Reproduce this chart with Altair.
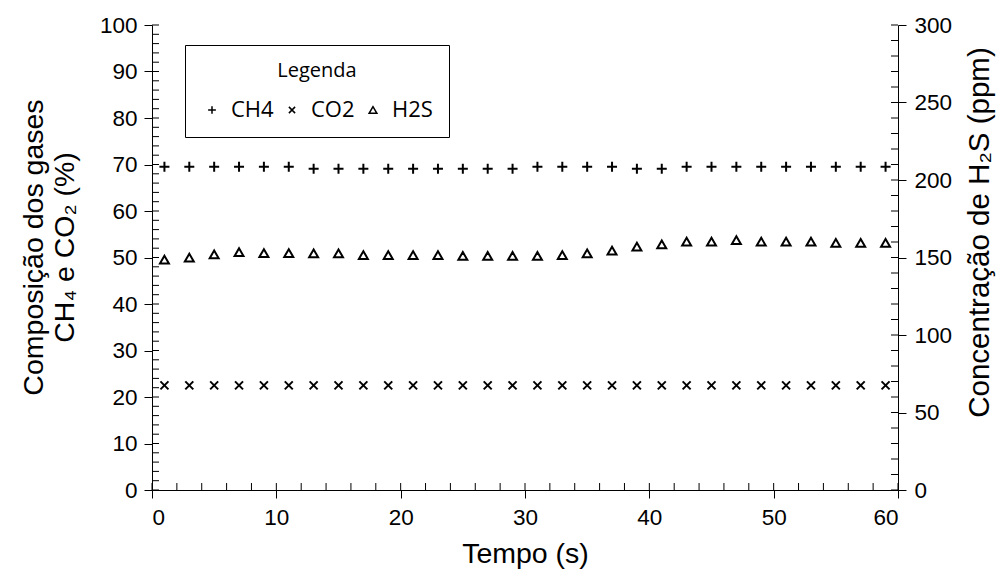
import altair as alt
import pandas as pd

# ---- data ----
tempo = [1, 3, 5, 7, 9, 11, 13, 15, 17, 19, 21, 23, 25, 27, 29,
         31, 33, 35, 37, 39, 41, 43, 45, 47, 49, 51, 53, 55, 57, 59]
ch4 = [69.5, 69.5, 69.5, 69.5, 69.5, 69.5, 69.1, 69.1, 69.1, 69.1, 69.1, 69.1, 69.1, 69.1, 69.1,
       69.5, 69.5, 69.5, 69.5, 69.1, 69.1, 69.5, 69.5, 69.5, 69.5, 69.5, 69.5, 69.5, 69.5, 69.5]
co2 = [22.5] * 30
h2s = [148.6, 149.9, 152.0, 153.4, 152.9, 152.9, 152.7, 152.7, 151.6, 151.6, 151.6, 151.6, 151.0, 151.0, 151.0,
       151.0, 151.6, 152.7, 154.5, 157.0, 158.5, 160.2, 160.2, 161.2, 160.2, 160.2, 160.2, 159.4, 159.4, 159.4]

gases = ["CH4", "CO2", "H2S"]
x_ticks_minor = list(range(0, 61, 2))
left_ticks_minor = list(range(0, 101, 2))
right_ticks_minor = list(range(0, 301, 10))
x_labels = list(range(0, 61, 10))
left_labels = list(range(0, 101, 10))
right_labels = list(range(0, 301, 50))

W, H = 746, 465
FONT = "Liberation Sans"

gas_df = pd.DataFrame({
    "tempo": tempo * 2,
    "valor": ch4 + co2,
    "gas": ["CH4"] * len(tempo) + ["CO2"] * len(tempo),
})
h2s_df = pd.DataFrame({"tempo": tempo, "valor": h2s, "gas": ["H2S"] * len(tempo)})

x_scale = alt.Scale(domain=[0, 60], nice=False, zero=False)
left_scale = alt.Scale(domain=[0, 100], nice=False)
right_scale = alt.Scale(domain=[0, 300], nice=False)

shape_scale = alt.Scale(
    domain=gases,
    range=["M-1,0L1,0M0,-1L0,1", "M-0.8,-0.8L0.8,0.8M-0.8,0.8L0.8,-0.8", "triangle-up"],
)

common = dict(
    grid=False, tickSize=8, tickColor="black", domainColor="black",
    labelFont=FONT, labelFontSize=22.5, labelColor="black",
    titleFont=FONT, titleFontWeight="normal", titleColor="black",
)

x_axis = alt.Axis(title="Tempo (s)", values=x_labels, format="d",
                  labelPadding=8, titlePadding=11, titleFontSize=28.5, **common)
left_axis = alt.Axis(title=["Composição dos gases", "CH₄ e CO₂ (%)"], orient="left",
                     values=left_labels, labelPadding=7, titlePadding=20,
                     titleFontSize=28.5, titleLineHeight=31, titleY=222, **common)
right_axis = alt.Axis(title="Concentração de H₂S (ppm)", orient="right",
                      values=right_labels, labelPadding=8, titlePadding=14,
                      titleFontSize=29.5, titleAngle=270, titleBaseline="top",
                      titleY=207, **common)

gas_points = alt.Chart(gas_df).mark_point(filled=False, color="black", strokeWidth=2, size=100, opacity=1).encode(
    x=alt.X("tempo:Q", scale=x_scale, axis=x_axis),
    y=alt.Y("valor:Q", scale=left_scale, axis=left_axis),
    shape=alt.Shape("gas:N", scale=shape_scale, legend=alt.Legend(
        title="Legenda", orient="none", legendX=33, legendY=20, direction="horizontal",
        titleAnchor="middle", titleFont="Open Sans", titleFontSize=20, titleFontWeight="normal",
        titleColor="black", titlePadding=18, labelFont="Open Sans", labelFontSize=22,
        labelColor="black", symbolStrokeColor="black", symbolFillColor="transparent",
        symbolStrokeWidth=1.5, symbolSize=60, columnPadding=7, labelOffset=8,
        padding=16, strokeColor="black", fillColor="white", cornerRadius=0,
    )),
)

left_ticks = alt.Chart(pd.DataFrame({"v": left_ticks_minor})).mark_rule(color="black", strokeWidth=1).encode(
    y=alt.Y("v:Q", scale=left_scale, axis=left_axis),
    x=alt.value(0), x2=alt.value(7),
)

x_ticks = alt.Chart(pd.DataFrame({"v": x_ticks_minor})).mark_rule(color="black", strokeWidth=1).encode(
    x=alt.X("v:Q", scale=x_scale, axis=x_axis),
    y=alt.value(H), y2=alt.value(H - 7),
)

h2s_points = alt.Chart(h2s_df).mark_point(filled=False, color="black", strokeWidth=2, size=80, opacity=1).encode(
    x=alt.X("tempo:Q", scale=x_scale, axis=x_axis),
    y=alt.Y("valor:Q", scale=right_scale, axis=right_axis),
    shape=alt.Shape("gas:N", scale=shape_scale),
)

right_ticks = alt.Chart(pd.DataFrame({"v": right_ticks_minor})).mark_rule(color="black", strokeWidth=1).encode(
    y=alt.Y("v:Q", scale=right_scale, axis=right_axis),
    x=alt.value(W - 7), x2=alt.value(W),
)

left = alt.layer(gas_points, left_ticks, x_ticks)
right = alt.layer(h2s_points, right_ticks)

chart = alt.layer(left, right).resolve_scale(y="independent").properties(
    width=W, height=H,
    autosize=alt.AutoSizeParams(type="none"),
    padding={"left": 152, "top": 25, "right": 104, "bottom": 87},
    background="white",
).configure_view(stroke=None)

chart.save("out.html", embed_options={"renderer": "svg", "actions": False})
